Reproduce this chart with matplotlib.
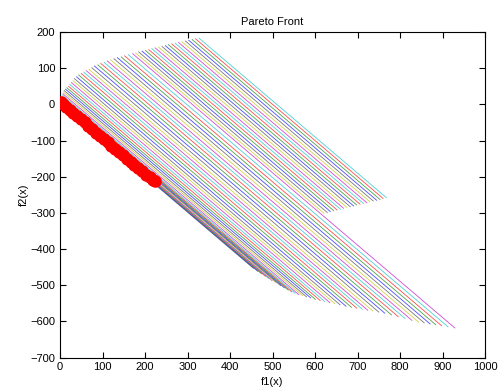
import matplotlib
matplotlib.use( "Agg" )
import matplotlib.pyplot as plt

# --- end of imports --- #

# --- lines ending on the upper right edge (start f1/f2 -> end f1/f2) --- #
upper_start_f1 = [ 178, 185, 193, 201, 209, 216, 224, 232, 240, 248, 255, 263, 271, 279, 287, 295, 303, 311, 319, 327 ]
upper_start_f2 = [ 142, 145, 147, 149, 151, 154, 156, 158, 160, 162, 165, 167, 169, 171, 173, 175, 177, 179, 181, 183 ]
upper_end_f1 = [ 621, 629, 636, 644, 652, 660, 667, 675, 683, 691, 698, 706, 714, 722, 729, 737, 745, 753, 760, 768 ]
upper_end_f2 = [ -301, -299, -296, -294, -292, -290, -287, -285, -283, -281, -278, -276, -274, -272, -269, -267, -265,
					-263, -260, -258 ]

# --- lines ending on the lower edge --- #
lower_start_f1 = [ 2, 3, 3, 3, 3, 4, 4, 5, 5, 5, 6, 6, 7, 8, 10, 13, 16, 20, 23, 27, 31, 34, 39, 44, 50, 56, 62, 68,
					75, 81, 89, 96, 104, 111, 119, 127, 135, 144, 152, 161, 171 ]
lower_start_f2 = [ 0, 1, 3, 5, 7, 8, 11, 13, 16, 19, 21, 25, 29, 34, 38, 42, 46, 50, 55, 60, 65, 71, 76, 81, 85, 89,
					93, 97, 101, 106, 109, 113, 116, 120, 123, 126, 129, 131, 134, 137, 140 ]
lower_end_f1 = [ 455, 465, 474, 483, 491, 499, 508, 519, 528, 537, 545, 553, 562, 571, 580, 590, 601, 612, 623, 635,
					647, 659, 673, 686, 698, 711, 724, 736, 750, 764, 780, 796, 812, 828, 844, 857, 871, 884, 898, 913,
					929 ]
lower_end_f2 = [ -453, -461, -468, -475, -481, -487, -493, -501, -507, -513, -518, -522, -526, -529, -532, -535, -539,
					-542, -545, -548, -551, -554, -558, -561, -563, -566, -569, -571, -574, -577, -582, -587, -592, -597,
					-602, -604, -607, -609, -612, -615, -618 ]

# --- pareto front points --- #
front_f1 = [ 2, 8, 15, 23, 31, 40, 49, 58, 67, 76, 85, 94, 103, 112, 121, 130, 139, 148, 157, 166, 175, 184, 193, 202,
				211, 218, 224 ]
front_f2 = [ 6, 0, -7, -15, -23, -32, -41, -50, -59, -68, -78, -87, -96, -105, -114, -123, -132, -141, -150, -158,
				-167, -176, -185, -194, -202, -208, -213 ]

x_ticks = [ 0, 100, 200, 300, 400, 500, 600, 700, 800, 900, 1000 ]
y_ticks = [ -700, -600, -500, -400, -300, -200, -100, 0, 100, 200 ]

# old matlab colour order
colors = [ ( 0, 0, 1 ), ( 0, 0.5, 0 ), ( 1, 0, 0 ), ( 0, 0.75, 0.75 ), ( 0.75, 0, 0.75 ), ( 0.75, 0.75, 0 ), ( 0.25, 0.25, 0.25 ) ]


def generate_plot( out_file ):
	"""! @brief generate figure """
	
	plt.rcParams['font.family'] = [ 'Liberation Sans', 'DejaVu Sans' ]
	fig = plt.figure( figsize=( 5, 3.9 ), dpi=100 )
	ax = fig.add_axes( [ 0.12, 0.083, 0.85, 0.835 ] )
	
	# --- lower set first, upper set on top --- #
	lines = []
	for i in range( len( lower_start_f1 ) ):
		lines.append( ( [ lower_start_f1[i], lower_end_f1[i] ], [ lower_start_f2[i], lower_end_f2[i] ] ) )
	for i in range( len( upper_start_f1 ) ):
		lines.append( ( [ upper_start_f1[i], upper_end_f1[i] ], [ upper_start_f2[i], upper_end_f2[i] ] ) )
	
	for idx, ( xs, ys ) in enumerate( lines ):
		ax.plot( xs, ys, color=colors[ ( idx + 6 ) % len( colors ) ], linewidth=0.6, alpha=0.7 )
	
	ax.plot( front_f1, front_f2, "o", color="red", markersize=8, markeredgecolor="red", zorder=5 )
	
	ax.set_xlim( 0, 1000 )
	ax.set_ylim( -700, 200 )
	ax.set_xticks( x_ticks )
	ax.set_yticks( y_ticks )
	ax.tick_params( direction="in", top=True, right=True, labelsize=8, length=4 )
	
	ax.set_title( "Pareto Front", fontsize=8, pad=5 )
	ax.set_xlabel( "f1(x)", fontsize=8, labelpad=3 )
	ax.set_ylabel( "f2(x)", fontsize=8, labelpad=1 )
	
	fig.savefig( out_file, dpi=100 )


generate_plot( "out.png" )
